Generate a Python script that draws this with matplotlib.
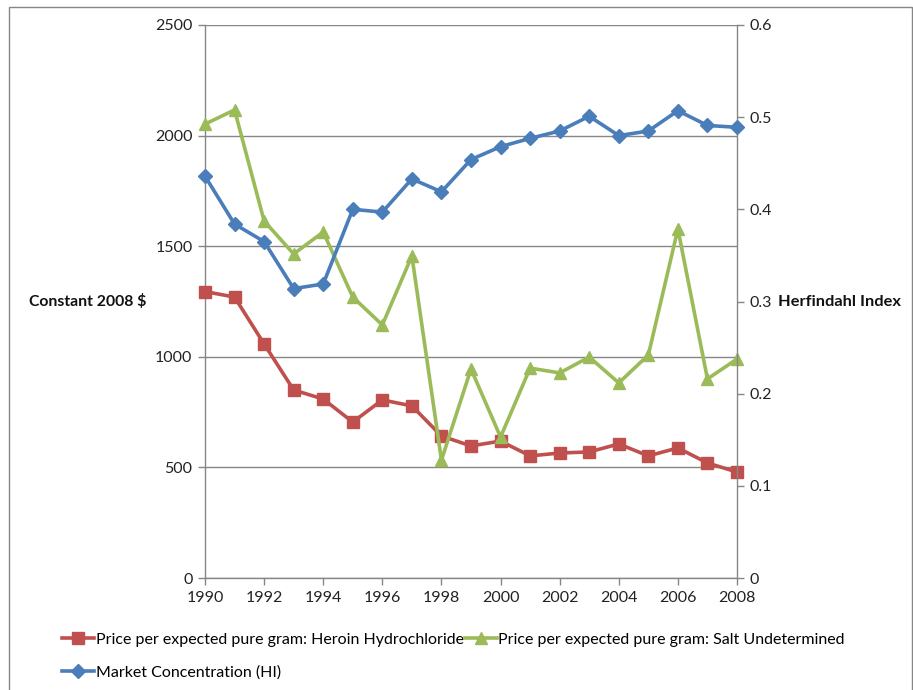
import matplotlib.pyplot as plt
from matplotlib.patches import Rectangle
from matplotlib.lines import Line2D

plt.rcParams['font.family'] = ['Lato', 'DejaVu Sans']

years = list(range(1990, 2009))

# price per expected pure gram, constant 2008 $
heroin_hcl = [1295, 1270, 1058, 850, 809, 705, 805, 778, 642, 597,
              619, 552, 565, 570, 606, 552, 588, 520, 479]
salt_undetermined = [2052, 2116, 1614, 1465, 1564, 1270, 1144, 1456, 533, 945,
                     637, 949, 927, 999, 882, 1008, 1578, 900, 990]

# Herfindahl index (right axis)
market_hi = [0.436, 0.384, 0.365, 0.314, 0.319, 0.400, 0.397, 0.433, 0.419, 0.454,
             0.468, 0.477, 0.485, 0.501, 0.480, 0.485, 0.507, 0.491, 0.489]

left_ticks = [0, 500, 1000, 1500, 2000, 2500]
right_ticks = [0, 0.1, 0.2, 0.3, 0.4, 0.5, 0.6]
right_labels = ['0', '0.1', '0.2', '0.3', '0.4', '0.5', '0.6']
x_ticks = list(range(1990, 2009, 2))

RED = '#C0504D'
GREEN = '#9BBB59'
BLUE = '#4A7EBB'
AXIS = '#868686'
LW = 2.6

W, H = 913, 690
fig = plt.figure(figsize=(W / 100, H / 100), dpi=100)

# chart-area frame
fig.patches.append(Rectangle((9 / W, -0.01), (W - 10) / W, 1 - 7 / H + 0.01,
                             transform=fig.transFigure, fill=False,
                             edgecolor=AXIS, linewidth=1.0))

x0, x1, y0, y1 = 205, 737, 25, 578
ax = fig.add_axes([x0 / W, 1 - y1 / H, (x1 - x0) / W, (y1 - y0) / H])
ax2 = ax.twinx()

ax.set_xlim(1990, 2008)
ax.set_ylim(0, 2500)
ax2.set_ylim(0, 0.6)

ax.set_yticks(left_ticks)
ax.set_xticks(x_ticks)
ax2.set_yticks(right_ticks)
ax2.set_yticklabels(right_labels)

ax.yaxis.grid(True, color=AXIS, linewidth=1.0)
ax.set_axisbelow(True)

for a in (ax, ax2):
    for s in a.spines.values():
        s.set_visible(False)
ax.spines['left'].set_visible(True)
ax.spines['bottom'].set_visible(True)
ax2.spines['right'].set_visible(True)
for s in (ax.spines['left'], ax.spines['bottom'], ax2.spines['right']):
    s.set_color(AXIS)
    s.set_linewidth(1.0)

ax.tick_params(axis='both', length=5, width=1, color=AXIS, labelsize=11.5,
               labelcolor='#222222', pad=4)
ax2.tick_params(axis='y', length=5, width=1, color=AXIS, labelsize=11.5,
                labelcolor='#222222', pad=4)

ax.plot(years, heroin_hcl, color=RED, linewidth=LW, marker='s', markersize=8,
        clip_on=False, zorder=3)
ax.plot(years, salt_undetermined, color=GREEN, linewidth=LW, marker='^',
        markersize=9, clip_on=False, zorder=3)
ax2.plot(years, market_hi, color=BLUE, linewidth=LW, marker='D', markersize=7,
         clip_on=False, zorder=3)

fig.text(29 / W, 1 - 302 / H, 'Constant 2008 $', fontsize=11.3, fontweight='bold',
         ha='left', va='center', color='#111111')
fig.text(778 / W, 1 - 302 / H, 'Herfindahl Index', fontsize=11.8, fontweight='bold',
         ha='left', va='center', color='#111111')

handles = [
    Line2D([], [], color=RED, linewidth=LW, marker='s', markersize=8),
    Line2D([], [], color=BLUE, linewidth=LW, marker='D', markersize=7),
    Line2D([], [], color=GREEN, linewidth=LW, marker='^', markersize=9),
]
labels = [
    'Price per expected pure gram: Heroin Hydrochloride',
    'Market Concentration (HI)',
    'Price per expected pure gram: Salt Undetermined',
]
fig.legend(handles, labels, ncol=2, loc='upper left',
           bbox_to_anchor=(56 / W, 1 - 626 / H), frameon=False,
           fontsize=11.5, handlelength=2.0, handletextpad=0.1,
           columnspacing=0.05, labelspacing=1.2, borderaxespad=0)

fig.savefig('out.png', dpi=100)
